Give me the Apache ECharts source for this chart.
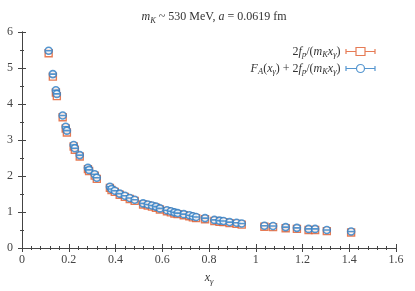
<!DOCTYPE html>
<html>
<head>
<meta charset="utf-8">
<script src="https://cdn.jsdelivr.net/npm/echarts@6/dist/echarts.min.js"></script>
<style>html,body{margin:0;padding:0;background:#fff}#c{width:415px;height:291px}</style>
</head>
<body>
<div id="c"></div>
<script>
const xGamma = [0.114,0.132,0.145,0.149,0.174,0.187,0.192,0.221,0.226,0.247,0.282,0.287,0.311,0.320,0.376,0.383,0.397,0.418,0.440,0.461,0.482,0.518,0.538,0.556,0.573,0.590,0.620,0.637,0.652,0.666,0.692,0.716,0.731,0.745,0.783,0.823,0.845,0.862,0.888,0.918,0.940,1.037,1.074,1.128,1.176,1.226,1.254,1.304,1.408];
const fullVals = [5.48,4.83,4.38,4.28,3.68,3.37,3.26,2.86,2.77,2.58,2.23,2.17,2.05,1.95,1.70,1.64,1.59,1.51,1.45,1.39,1.34,1.24,1.21,1.18,1.15,1.10,1.05,1.02,0.99,0.97,0.94,0.91,0.88,0.86,0.83,0.78,0.76,0.75,0.72,0.70,0.68,0.62,0.61,0.58,0.56,0.53,0.53,0.50,0.46];
const poleVals = [5.41,4.76,4.32,4.22,3.63,3.32,3.21,2.82,2.73,2.54,2.19,2.14,2.01,1.92,1.67,1.61,1.56,1.48,1.42,1.36,1.31,1.21,1.18,1.15,1.12,1.07,1.02,0.99,0.96,0.94,0.91,0.88,0.85,0.83,0.80,0.75,0.73,0.72,0.69,0.67,0.65,0.59,0.58,0.55,0.53,0.50,0.50,0.47,0.43];
const xTicks = ['0','0.2','0.4','0.6','0.8','1','1.2','1.4','1.6'];
const yTicks = ['0','1','2','3','4','5','6'];

const ORANGE = '#e05a2b';
const BLUE = '#2a7cc4';
const SERIF = '"Liberation Serif","DejaVu Serif",serif';
const base = {fontFamily: SERIF, fontWeight: 'normal', color: '#333', lineHeight: 16};
const rich = {
  n: Object.assign({}, base, {fontSize: 12, verticalAlign: 'middle'}),
  i: Object.assign({}, base, {fontSize: 12, fontStyle: 'italic', verticalAlign: 'middle'}),
  s: Object.assign({}, base, {fontSize: 8.5, fontStyle: 'italic', verticalAlign: 'bottom'})
};
const labels = {
  pole: '{n|2}{i|f}{s|p}{n|/(}{i|m}{s|K}{i|x}{s|γ}{n|)}',
  full: '{i|F}{s|A}{n|(}{i|x}{s|γ}{n|) + 2}{i|f}{s|p}{n|/(}{i|m}{s|K}{i|x}{s|γ}{n|)}'
};
const pts = (ys) => xGamma.map((x, k) => [x, ys[k]]);

const chart = echarts.init(document.getElementById('c'), null, {renderer: 'canvas'});
const axisCommon = {
  axisLine: {show: true, lineStyle: {color: '#444', width: 1}},
  axisTick: {show: true, inside: true, length: 4, lineStyle: {color: '#444'}},
  splitLine: {show: false}
};
const tickLab = {fontFamily: SERIF, fontSize: 12, color: '#444'};
chart.setOption({
  animation: false,
  title: {
    text: '{i|m}{s|K}{n| ~ 530 MeV, }{i|a}{n| = 0.0619 fm}',
    left: 209, top: 4, textAlign: 'center',
    textStyle: {fontWeight: 'normal', rich: rich}
  },
  grid: {left: 22, right: 19, top: 32, bottom: 35, containLabel: false},
  legend: [
    {data: [{name: 'pole', icon: 'path://M0,5 L10.5,5 M19.5,5 L30,5 M0.5,2.5 L0.5,7.5 M29.5,2.5 L29.5,7.5 M10.5,1 L19.5,1 L19.5,9 L10.5,9 Z', itemStyle: {color: 'none', borderColor: ORANGE, borderWidth: 1.2}}],
     orient: 'vertical', right: 32, top: 40, itemWidth: 30, itemHeight: 10, align: 'right', itemGap: 0,
     formatter: (n) => labels[n], textStyle: {rich: rich}},
    {data: [{name: 'full', icon: 'path://M0,5 L11,5 M19,5 L30,5 M0.5,2.5 L0.5,7.5 M29.5,2.5 L29.5,7.5 M19,5 A4,4 0 1 1 11,5 A4,4 0 1 1 19,5 Z', itemStyle: {color: 'none', borderColor: BLUE, borderWidth: 1.2}}],
     orient: 'vertical', right: 32, top: 57, itemWidth: 30, itemHeight: 10, align: 'right', itemGap: 0,
     formatter: (n) => labels[n], textStyle: {rich: rich}}
  ],
  xAxis: [
    Object.assign({type: 'value', min: 0, max: 1.6, interval: 0.2,
      name: '{i|x}{s|γ}', nameLocation: 'middle', nameGap: 22, nameTextStyle: {rich: rich},
      axisLabel: Object.assign({margin: 6, formatter: (v) => xTicks[Math.round(v / 0.2)]}, tickLab)}, axisCommon,
      {minorTick: {show: true, splitNumber: 5, length: 2, lineStyle: {color: '#444'}}}),
    Object.assign({type: 'value', position: 'top', min: 0, max: 1.6, interval: 0.2, axisLabel: {show: false}}, axisCommon,
      {minorTick: {show: true, splitNumber: 5, length: 2, lineStyle: {color: '#444'}}})
  ],
  yAxis: [
    Object.assign({type: 'value', min: 0, max: 6, interval: 1,
      axisLabel: Object.assign({margin: 9, formatter: (v) => yTicks[Math.round(v)]}, tickLab)}, axisCommon,
      {minorTick: {show: true, splitNumber: 2, length: 2, lineStyle: {color: '#444'}}}),
    Object.assign({type: 'value', position: 'right', min: 0, max: 6, interval: 1, axisLabel: {show: false}}, axisCommon,
      {minorTick: {show: true, splitNumber: 2, length: 2, lineStyle: {color: '#444'}}})
  ],
  series: [
    {name: 'pole', type: 'scatter', data: pts(poleVals), symbol: 'path://M0,0 L10,0 L10,10 L0,10 Z M0,5 L10,5', symbolSize: 7,
     itemStyle: {color: '#fff', borderColor: ORANGE, borderWidth: 1.4}, z: 2},
    {name: 'full', type: 'scatter', data: pts(fullVals), symbol: 'path://M10,5 A5,5 0 1 1 0,5 A5,5 0 1 1 10,5 Z M0,5 L10,5', symbolSize: 7,
     itemStyle: {color: '#fff', borderColor: BLUE, borderWidth: 1.6}, z: 3}
  ]
});
</script>
</body>
</html>
